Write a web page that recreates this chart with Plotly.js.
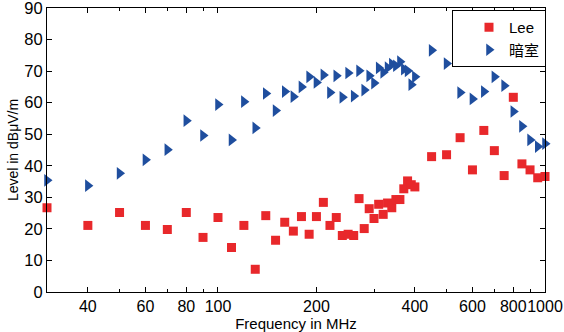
<!DOCTYPE html>
<html>
<head>
<meta charset="utf-8">
<script src="https://cdn.plot.ly/plotly-3.0.1.min.js"></script>
<style>html,body{margin:0;padding:0;background:#fff;}#chart{width:564px;height:332px;}</style>
</head>
<body>
<div id="chart"></div>
<script>
// Frequencies (MHz)
var freq = [30,40,50,60,70,80,90,100,110,120,130,140,150,160,170,180,190,200,210,220,230,240,250,260,270,280,290,300,310,320,330,340,350,360,370,380,390,400,450,500,550,600,650,700,750,800,850,900,950,1000];
// Series "Lee" (dBμV/m)
var leeValues = [26.7,21.1,25.2,21.1,19.8,25.2,17.3,23.6,14.1,21.1,7.2,24.2,16.4,22.1,19.3,23.9,18.3,23.9,28.4,21.1,23.6,17.9,18.3,17.9,29.6,20.1,26.4,23.3,27.8,24.6,28.2,26.7,29.3,29.3,32.7,35.2,34.0,33.3,42.9,43.5,48.9,38.7,51.2,44.8,36.9,61.7,40.6,38.7,36.2,36.6];
// Series "暗室" (dBμV/m)
var chamberValues = [35.4,33.7,37.6,41.9,45.1,54.3,49.6,59.4,48.2,60.3,52.0,62.9,57.5,63.5,61.9,65.0,68.2,66.4,68.8,63.2,68.5,61.7,69.4,62.1,70.1,64.0,68.5,66.2,71.0,69.6,71.1,72.2,71.7,73.0,70.6,70.1,65.7,68.2,76.6,72.4,63.2,61.2,63.5,68.2,65.4,57.2,52.5,48.2,46.1,47.0];
var seriesNames = ["Lee", "暗室"];
var xTickVals = [40,60,80,100,200,400,600,800,1000];
var xTickText = ["40","60","80","100","200","400","600","800","1000"];
var xMinorVals = [30,50,70,90,300,500,700,900];
var yTickVals = [0,10,20,30,40,50,60,70,80,90];

var fontFam = "Liberation Sans, Arial, Noto Sans CJK SC, sans-serif";

var traces = [
  {x: freq, y: leeValues, name: seriesNames[0], type: "scatter", mode: "markers", cliponaxis: false,
   marker: {symbol: "square", size: 9, color: "#E8282B", line: {width: 0}}},
  {x: freq, y: chamberValues, name: seriesNames[1], type: "scatter", mode: "markers", cliponaxis: false,
   marker: {symbol: "triangle-right", size: 11, color: "#1F4E9E", line: {width: 0}}}
];

var layout = {
  width: 564, height: 332,
  margin: {l: 47, r: 19, t: 8, b: 40, pad: 0},
  paper_bgcolor: "#fff", plot_bgcolor: "#fff",
  font: {family: fontFam, size: 15, color: "#000"},
  showlegend: true,
  legend: {x: 1.002, xanchor: "right", y: 0.993, yanchor: "top", bgcolor: "#fff",
           bordercolor: "#000", borderwidth: 1, font: {family: fontFam, size: 15, color: "#000"},
           indentation: 16, tracegroupgap: 0},
  xaxis: {type: "log", range: [Math.log10(30), 3], tickmode: "array", tickvals: xTickVals, ticktext: xTickText,
          tickangle: 0,
          ticks: "inside", ticklen: 5, tickcolor: "#000", showline: true, linecolor: "#000", linewidth: 1,
          mirror: "ticks", showgrid: false, zeroline: false, automargin: false, ticklabeloverflow: "allow",
          minor: {tickmode: "array", tickvals: xMinorVals, ticks: "inside", ticklen: 3, tickcolor: "#000", showgrid: false},
          tickfont: {size: 16, color: "#000"},
          title: {text: "Frequency in MHz", font: {size: 15}, standoff: 2}},
  yaxis: {range: [0, 90], tickmode: "array", tickvals: yTickVals,
          ticks: "inside", ticklen: 5, tickcolor: "#000", showline: true, linecolor: "#000", linewidth: 1,
          mirror: "ticks", showgrid: false, zeroline: false, automargin: false, ticklabeloverflow: "allow",
          tickfont: {size: 16.5, color: "#000"},
          title: {text: "Level in dBμV/m", font: {size: 14}, standoff: 2}}
};

Plotly.newPlot("chart", traces, layout, {displayModeBar: false, staticPlot: true});
</script>
</body>
</html>
